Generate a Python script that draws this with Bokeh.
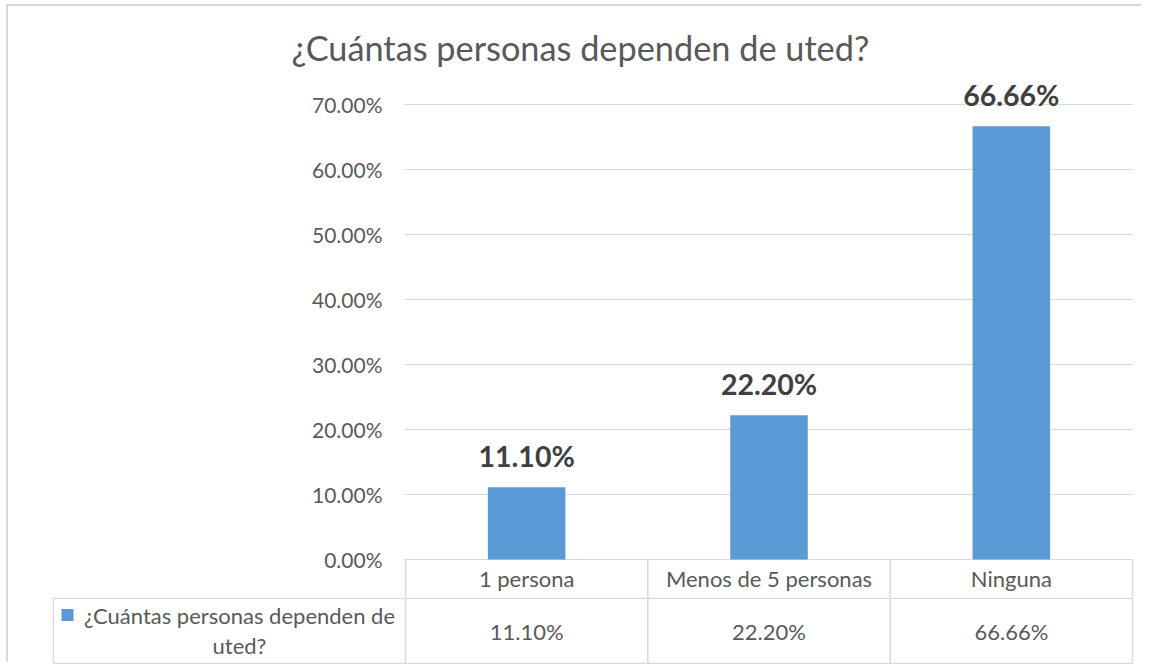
from bokeh.plotting import figure
from bokeh.models import (FactorRange, Range1d, FixedTicker, NumeralTickFormatter,
                          ColumnDataSource, Title)
from bokeh.layouts import column
from bokeh.embed import file_html
from bokeh.resources import INLINE
from bokeh.core.properties import value

# ---------------- data ----------------
TITLE = "¿Cuántas personas dependen de uted?"
SERIES_NAME = "¿Cuántas personas dependen de uted?"
CATEGORIES = ["1 persona", "Menos de 5 personas", "Ninguna"]
VALUES = [0.111, 0.222, 0.6666]
Y_TICKS = [0.0, 0.1, 0.2, 0.3, 0.4, 0.5, 0.6, 0.7]

# ---------------- style ----------------
FONT = "Lato"
BAR_COLOR = "#5B9BD5"
GRID_COLOR = "#D9D9D9"
BORDER_COLOR = "#D9D9D9"
TEXT_COLOR = "#595959"
LABEL_COLOR = "#404040"

OX, OY = 8, 6                # page offset of the canvases
W = 1143 - OX
PX_PER_UNIT = 650.0          # vertical pixels per 100 %
TOP_PAD = 24                 # px above the top tick (room for data labels)
ROW1_H = 38                  # category row height (px)
ROW2_H = 67                  # value row height (px)
FRAME_LEFT = 404 - OX        # canvas px
FRAME_RIGHT_PAD = 10
FRAME_TOP = 80 - OY
X_PAD = 0.004                # factor-range padding (units)
LEFT_CELL_PX = 352           # width of the series-name cell
TABLE_FONT = "22px"

fmt = lambda v: f"{v * 100:.2f}%"

# ---------------- chart ----------------
y_end = Y_TICKS[-1] + TOP_PAD / PX_PER_UNIT
y_start = -ROW1_H / PX_PER_UNIT
frame_h = (y_end - y_start) * PX_PER_UNIT
H1 = int(round(FRAME_TOP + frame_h))

x_range = FactorRange(factors=CATEGORIES, range_padding=X_PAD, range_padding_units="absolute")
p = figure(width=W, height=H1, x_range=x_range, y_range=Range1d(y_start, y_end),
           output_backend="svg", toolbar_location=None, x_axis_location=None,
           min_border_left=FRAME_LEFT, min_border_right=FRAME_RIGHT_PAD,
           min_border_top=FRAME_TOP, min_border_bottom=0)
p.frame_align = False
p.outline_line_color = None
p.background_fill_color = "white"
p.border_fill_color = "white"

p.title = Title(text=TITLE, align="left", offset=-113, text_font=FONT,
                text_font_size="34.3px", text_font_style="normal",
                text_color=TEXT_COLOR, standoff=26)

ticker = FixedTicker(ticks=Y_TICKS)
p.yaxis.ticker = ticker
p.ygrid.ticker = ticker
p.xgrid.visible = False
p.ygrid.grid_line_color = GRID_COLOR
p.ygrid.grid_line_width = 1
p.yaxis.formatter = NumeralTickFormatter(format="0.00%")
p.yaxis.axis_line_color = None
p.yaxis.major_tick_line_color = None
p.yaxis.minor_tick_line_color = None
p.yaxis.major_tick_out = 0
p.yaxis.major_tick_in = 0
p.yaxis.major_label_standoff = 22
p.yaxis.major_label_text_font = FONT
p.yaxis.major_label_text_font_size = "21px"
p.yaxis.major_label_text_color = TEXT_COLOR

src = ColumnDataSource(dict(cat=CATEGORIES, val=VALUES, lab=[fmt(v) for v in VALUES]))
p.vbar(x="cat", top="val", width=0.32, source=src, fill_color=BAR_COLOR, line_color=None)
p.text(x="cat", y="val", text="lab", source=src, text_align="center",
       text_baseline="alphabetic", y_offset=-31, text_font=value(FONT),
       text_font_style="bold", text_font_size="28.5px", text_color=LABEL_COLOR)

# category row of the data table
p.text(x=CATEGORIES, y=[y_start / 2] * len(CATEGORIES), text=CATEGORIES,
       text_align="center", text_baseline="middle", text_font=value(FONT),
       text_font_size=TABLE_FONT, text_color=TEXT_COLOR)
bounds = list(range(len(CATEGORIES) + 1))
p.segment(x0=bounds, y0=[y_start] * len(bounds), x1=bounds, y1=[0] * len(bounds),
          line_color=GRID_COLOR, line_width=1.5)

# ---------------- data table row ----------------
frame_w1 = W - FRAME_LEFT - FRAME_RIGHT_PAD
U = frame_w1 / (len(CATEGORIES) + 2 * X_PAD)       # px per category
x0_px = FRAME_LEFT + X_PAD * U                       # canvas px of x = 0
T_LEFT = int(round(x0_px - LEFT_CELL_PX)) - 1
x_start2 = (T_LEFT - x0_px) / U
x_end2 = x_start2 + (W - T_LEFT - FRAME_RIGHT_PAD) / U

p2 = figure(width=W, height=ROW2_H, x_range=Range1d(x_start2, x_end2), y_range=Range1d(0, ROW2_H),
            output_backend="svg", toolbar_location=None, x_axis_location=None, y_axis_location=None,
            min_border_left=T_LEFT, min_border_right=FRAME_RIGHT_PAD, min_border_top=0, min_border_bottom=0)
p2.frame_align = False
p2.outline_line_color = None
p2.grid.visible = False

def px_to_x2(px):
    return (px - OX - x0_px) / U

cell_left = (T_LEFT + 0.75 - x0_px) / U
top_y = ROW2_H - 0.75
bot_y = 1.0
p2.segment(x0=[cell_left, cell_left], y0=[top_y, bot_y], x1=[len(CATEGORIES)] * 2, y1=[top_y, bot_y],
           line_color=GRID_COLOR, line_width=1.5)
vx = [cell_left] + bounds
p2.segment(x0=vx, y0=[bot_y] * len(vx), x1=vx, y1=[top_y] * len(vx),
           line_color=GRID_COLOR, line_width=1.5)

centers = [i + 0.5 for i in range(len(CATEGORIES))]
p2.text(x=centers, y=[ROW2_H / 2] * len(centers), text=[fmt(v) for v in VALUES],
        text_align="center", text_baseline="middle", text_font=value(FONT),
        text_font_size=TABLE_FONT, text_color=TEXT_COLOR)

name_lines = SERIES_NAME.rsplit(" ", 1)
name_x = px_to_x2(239)
p2.text(x=[name_x, name_x], y=[ROW2_H / 2 + 16, ROW2_H / 2 - 14], text=name_lines,
        text_align="center", text_baseline="middle", text_font=value(FONT),
        text_font_size="22px", text_color=TEXT_COLOR)
key_x = px_to_x2(67)
p2.rect(x=[key_x], y=[ROW2_H / 2 + 16], width=12, height=12, width_units="screen",
        height_units="screen", fill_color=BAR_COLOR, line_color=None)

layout = column(p, p2, spacing=0, margin=(OY, 0, 0, OX))
layout.styles = {"box-shadow": f"-2px -2px 0 0 {BORDER_COLOR}"}
open("out.html", "w").write(file_html(layout, INLINE))
